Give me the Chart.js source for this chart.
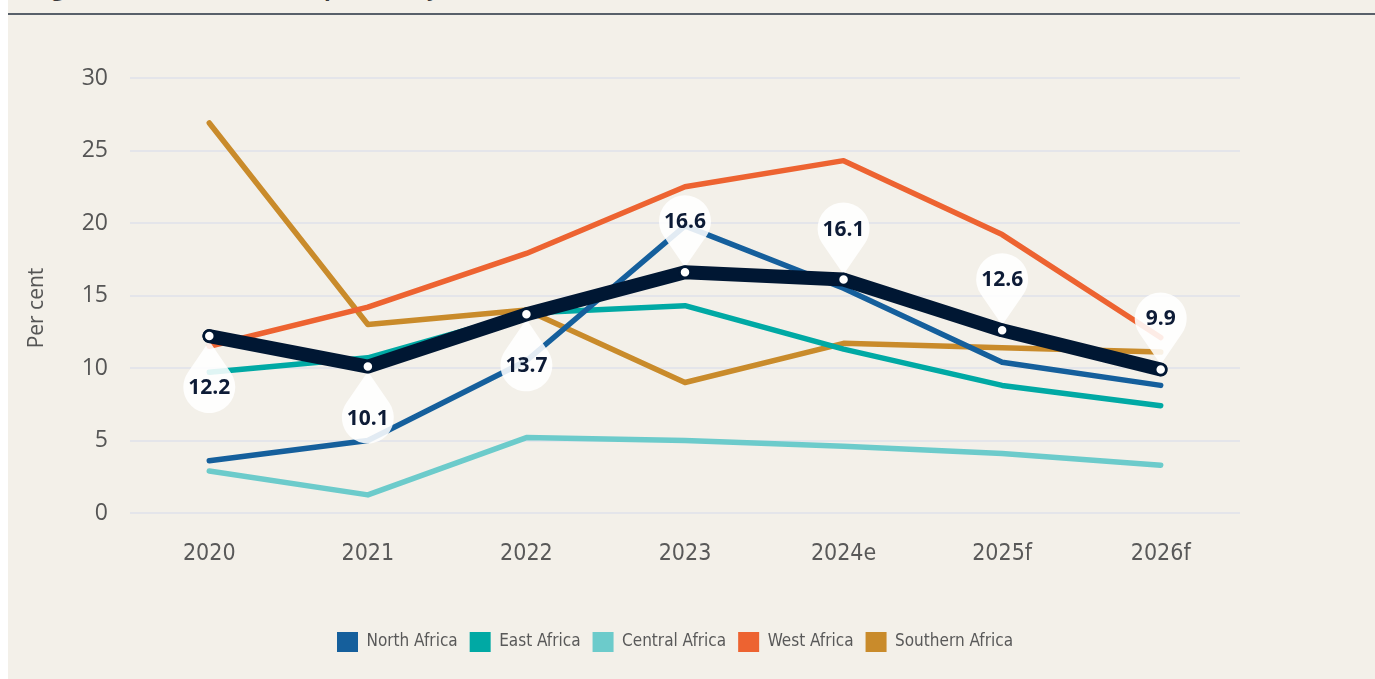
<!DOCTYPE html>
<html><head><meta charset="utf-8">
<script src="https://cdn.jsdelivr.net/npm/chart.js@4.4.1/dist/chart.umd.min.js"></script>
<style>
html,body{margin:0;padding:0;background:#ffffff;width:1375px;height:679px;overflow:hidden;}
#panel{position:absolute;left:8px;top:0;width:1367px;height:679px;background:#f3f0e9;}
#rule{position:absolute;left:8px;top:13px;width:1367px;height:2px;background:#58606a;}
#title{position:absolute;left:33px;top:-24px;font:700 22px/22px "Open Sans",sans-serif;color:#3a3a3a;white-space:nowrap;}
#wrap{position:absolute;left:0;top:0;width:1375px;height:679px;}
</style></head><body>
<div id="panel"></div>
<div id="title">Figure 1.4: Inflation developments by area (%)</div>
<div id="rule"></div>
<div id="wrap"><canvas id="c"></canvas></div>
<script>
const categories = ['2020', '2021', '2022', '2023', '2024e', '2025f', '2026f'];
const northAfrica    = [3.6, 5.0, 10.5, 19.8, 15.5, 10.4, 8.8];
const eastAfrica     = [9.7, 10.7, 13.8, 14.3, 11.3, 8.8, 7.4];
const centralAfrica  = [2.9, 1.25, 5.2, 5.0, 4.6, 4.1, 3.3];
const westAfrica     = [11.5, 14.2, 17.9, 22.5, 24.3, 19.2, 12.1];
const southernAfrica = [26.9, 13.0, 14.0, 9.0, 11.7, 11.4, 11.1];
const africaAverage  = [12.2, 10.1, 13.7, 16.6, 16.1, 12.6, 9.9];
const yTicks = [0, 5, 10, 15, 20, 25, 30];

const pinBelow = [true, true, true, false, false, false, false];
const AVG_INDEX = 5;

const pinPlugin = {
  id: 'pins',
  beforeDatasetDraw(chart, args) {
    if (args.index !== AVG_INDEX) return;
    const meta = chart.getDatasetMeta(AVG_INDEX);
    const ctx = chart.ctx;
    const ds = chart.data.datasets[AVG_INDEX];
    ctx.save();
    meta.data.forEach((pt, i) => {
      const dir = pinBelow[i] ? 1 : -1;
      const tipX = pt.x, tipY = pt.y + dir * 5;
      const d = 46, r = 26;
      const cx = tipX, cy = tipY + dir * d;
      const th0 = dir > 0 ? -Math.PI / 2 : Math.PI / 2;
      const phi = Math.acos(r / d);
      ctx.beginPath();
      ctx.moveTo(tipX, tipY);
      ctx.arc(cx, cy, r, th0 + phi, th0 - phi + 2 * Math.PI, false);
      ctx.closePath();
      ctx.fillStyle = 'rgba(255,255,255,0.88)';
      ctx.fill();
      ctx.fillStyle = '#0d1b36';
      ctx.font = '700 21px "Open Sans", sans-serif';
      ctx.textAlign = 'center';
      ctx.textBaseline = 'middle';
      ctx.fillText(ds.data[i].toFixed(1), cx, cy + 1);
    });
    ctx.restore();
  }
};

const yTitlePlugin = {
  id: 'ytitle',
  afterDraw(chart) {
    const ctx = chart.ctx;
    ctx.save();
    ctx.translate(37, 308);
    ctx.rotate(-Math.PI / 2);
    ctx.font = '21px "Open Sans", sans-serif';
    ctx.fillStyle = '#555555';
    ctx.textAlign = 'center';
    ctx.textBaseline = 'middle';
    ctx.fillText('Per cent', 0, 0);
    ctx.restore();
  }
};

const legendShift = {
  id: 'legendShift',
  afterLayout(chart) { if (chart.legend) chart.legend.left = 110; }
};

function regional(label, data, color) {
  return {
    label, data,
    borderColor: color, backgroundColor: color,
    borderWidth: 5.5, pointRadius: 0, pointHoverRadius: 0,
    borderCapStyle: 'round', borderJoinStyle: 'round',
    tension: 0, order: 0
  };
}

const narrow = '"DejaVu Sans Condensed", "DejaVu Sans", sans-serif';

new Chart(document.getElementById('c'), {
  type: 'line',
  data: {
    labels: categories,
    datasets: [
      regional('North Africa', northAfrica, '#155f9c'),
      regional('East Africa', eastAfrica, '#00a9a4'),
      regional('Central Africa', centralAfrica, '#6ccbcb'),
      regional('West Africa', westAfrica, '#ed6331'),
      regional('Southern Africa', southernAfrica, '#c98b2b'),
      {
        label: 'Africa', data: africaAverage,
        borderColor: '#001733', backgroundColor: '#ffffff',
        borderWidth: 14, borderCapStyle: 'round', borderJoinStyle: 'round',
        pointRadius: 5.5, pointBackgroundColor: '#ffffff', pointBorderColor: '#001733',
        pointBorderWidth: 2.5, pointHoverRadius: 5.5, order: -1
      }
    ]
  },
  options: {
    responsive: true, maintainAspectRatio: false, animation: false,
    layout: { padding: { left: 0, right: 135, top: 78, bottom: 17 } },
    plugins: {
      tooltip: { enabled: false },
      legend: {
        position: 'bottom',
        labels: {
          boxWidth: 21, boxHeight: 20, padding: 12,
          color: '#595959',
          font: { family: narrow, size: 17 },
          generateLabels(chart) {
            return chart.data.datasets.slice(0, 5).map((ds, i) => ({
              text: ds.label, fillStyle: ds.borderColor, strokeStyle: ds.borderColor,
              lineWidth: 0, hidden: false, datasetIndex: i, fontColor: '#595959'
            }));
          }
        }
      }
    },
    scales: {
      x: {
        offset: true,
        grid: { display: false, drawTicks: false },
        border: { display: false },
        ticks: { color: '#595959', padding: 27, font: { family: narrow, size: 23 } },
        afterFit(s) { s.height = 107; }
      },
      y: {
        min: 0, max: 30,
        afterBuildTicks(s) { s.ticks = yTicks.map(v => ({ value: v })); },
        grid: { color: '#e4e5ea', lineWidth: 2, drawTicks: false },
        border: { display: false },
        ticks: { color: '#555555', padding: 22, font: { family: '"Open Sans", sans-serif', size: 23 } },
        afterFit(s) { s.width = 130; }
      }
    }
  },
  plugins: [pinPlugin, yTitlePlugin, legendShift]
});
</script>
</body></html>
